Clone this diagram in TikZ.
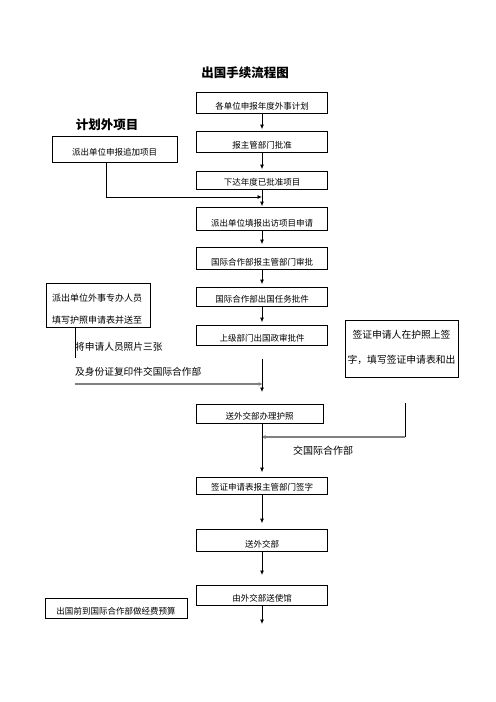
\documentclass[tikz,border=0pt]{standalone}
\usepackage{fontspec}
\setmainfont{Noto Sans CJK SC}
\usetikzlibrary{arrows.meta}
\begin{document}
\begin{tikzpicture}[x=1bp,y=-1bp,
  mbox/.style={draw, line width=0.8bp, inner xsep=0bp, inner ysep=2bp, text depth=2bp,
    minimum width=131bp, anchor=south, font=\fontsize{8.5bp}{9bp}\selectfont},
  sbox/.style={draw, line width=0.8bp, inner sep=0bp},
  conn/.style={line width=0.8bp, -{Latex[length=4.5bp,width=4bp]}},
  plain/.style={line width=0.8bp},
  grayconn/.style={line width=1.8bp, draw={rgb,255:red,128;green,128;blue,128}, -{Latex[length=4.5bp,width=4bp]}, shorten >=-1bp},
  lbl/.style={inner sep=0bp, font=\fontsize{9.7bp}{10bp}\selectfont},
  ttl/.style={inner sep=0bp, font=\fontsize{12.5bp}{13bp}\selectfont\bfseries}
]
\useasboundingbox (0,0) rectangle (496,702);
\fill[white] (0,0) rectangle (496,702);

\node[ttl] (title) at (245,73) {出国手续流程图};
\node[ttl] (plan) at (107,125) {计划外项目};

% main column
\node[mbox, text height=15bp] (b1) at (262,114) {各单位申报年度外事计划};
\node[mbox, text height=15bp] (b2) at (262,153) {报主管部门批准};
\node[mbox, text height=12bp] (b3) at (262,190) {下达年度已批准项目};
\node[mbox, text height=17bp] (b4) at (262,231) {派出单位填报出访项目申请};
\node[mbox, text height=16bp] (b5) at (262,270) {国际合作部报主管部门审批};
\node[mbox, text height=13bp] (b6) at (262,307) {国际合作部出国任务批件};
\node[mbox, text height=14bp] (b7) at (262,346) {上级部门出国政审批件};
\node[mbox, text height=13bp, minimum width=127bp] (b8) at (259.5,424) {送外交部办理护照};
\node[mbox, text height=11bp] (b9) at (262,495) {签证申请表报主管部门签字};
\node[mbox, text height=16bp] (b10) at (262,552) {送外交部};
\node[mbox, text height=14bp] (b11) at (262,606) {由外交部送使馆};

% left boxes
\node[mbox, text height=17bp, text depth=5bp, minimum width=125bp] (l1) at (114.5,163) {派出单位申报追加项目};
\node[sbox, minimum width=104bp, minimum height=44bp] (l2) at (98,305) {};
\node[lbl, font=\fontsize{9bp}{9bp}\selectfont] (l2a) at (97,298) {派出单位外事专办人员};
\node[lbl, font=\fontsize{9bp}{9bp}\selectfont] (l2b) at (97,320) {填写护照申请表并送至};
\node[mbox, text height=14bp, minimum width=142bp] (l12) at (116,619) {出国前到国际合作部做经费预算};

% right box
\node[sbox, minimum width=113bp, minimum height=57bp] (r) at (401.5,348.5) {};
\node[lbl, font=\fontsize{9.8bp}{10bp}\selectfont] (ra) at (401.5,335) {签证申请人在护照上签};
\node[lbl, font=\fontsize{9.8bp}{10bp}\selectfont] (rb) at (401.5,360) {字，填写签证申请表和出};

% free texts
\node[lbl, anchor=west] (t1) at (75,347) {将申请人员照片三张};
\node[lbl, anchor=west] (t2) at (75,372) {及身份证复印件交国际合作部};
\node[lbl, font=\fontsize{10bp}{10bp}\selectfont, anchor=west] (t3) at (293,451) {交国际合作部};

% coordinates
\coordinate (c1) at (106,197);
\coordinate (c2) at (75,358);
\coordinate (c3) at (75,384);
\coordinate (c4) at (262,359);
\coordinate (c5) at (262,392);
\coordinate (c6) at (405,403);
\coordinate (c7) at (405,437);
\coordinate (c8) at (262,575);
\coordinate (c9) at (262,624);

% connectors
\draw[conn, shorten >=2bp] (b1) -- (b2);
\draw[conn, shorten >=2bp] (b2) -- (b3);
\draw[conn, shorten >=1bp] (b3) -- (b4);
\draw[conn] (l1.south -| c1) -- (c1) -- (c1 -| b1);
\draw[conn, shorten >=3bp] (b4) -- (b5);
\draw[conn, shorten >=3bp] (b5) -- (b6);
\draw[conn, shorten >=3bp] (b6) -- (b7);
\draw[plain] (l2.south -| c2) -- (c2);
\draw[grayconn] (c3) -- (c3 -| b1);
\draw[conn] (c4) -- (c5);
\draw[plain] (c6) -- (c7);
\draw[grayconn] (c7) -- (c7 -| b1);
\draw[conn, shorten >=5bp] (b8.south -| b1) -- (b9.north -| b1);
\draw[conn, shorten >=6bp] (b9) -- (b10);
\draw[conn] (b10) -- (c8);
\draw[conn] (b11) -- (c9);
\end{tikzpicture}
\end{document}
